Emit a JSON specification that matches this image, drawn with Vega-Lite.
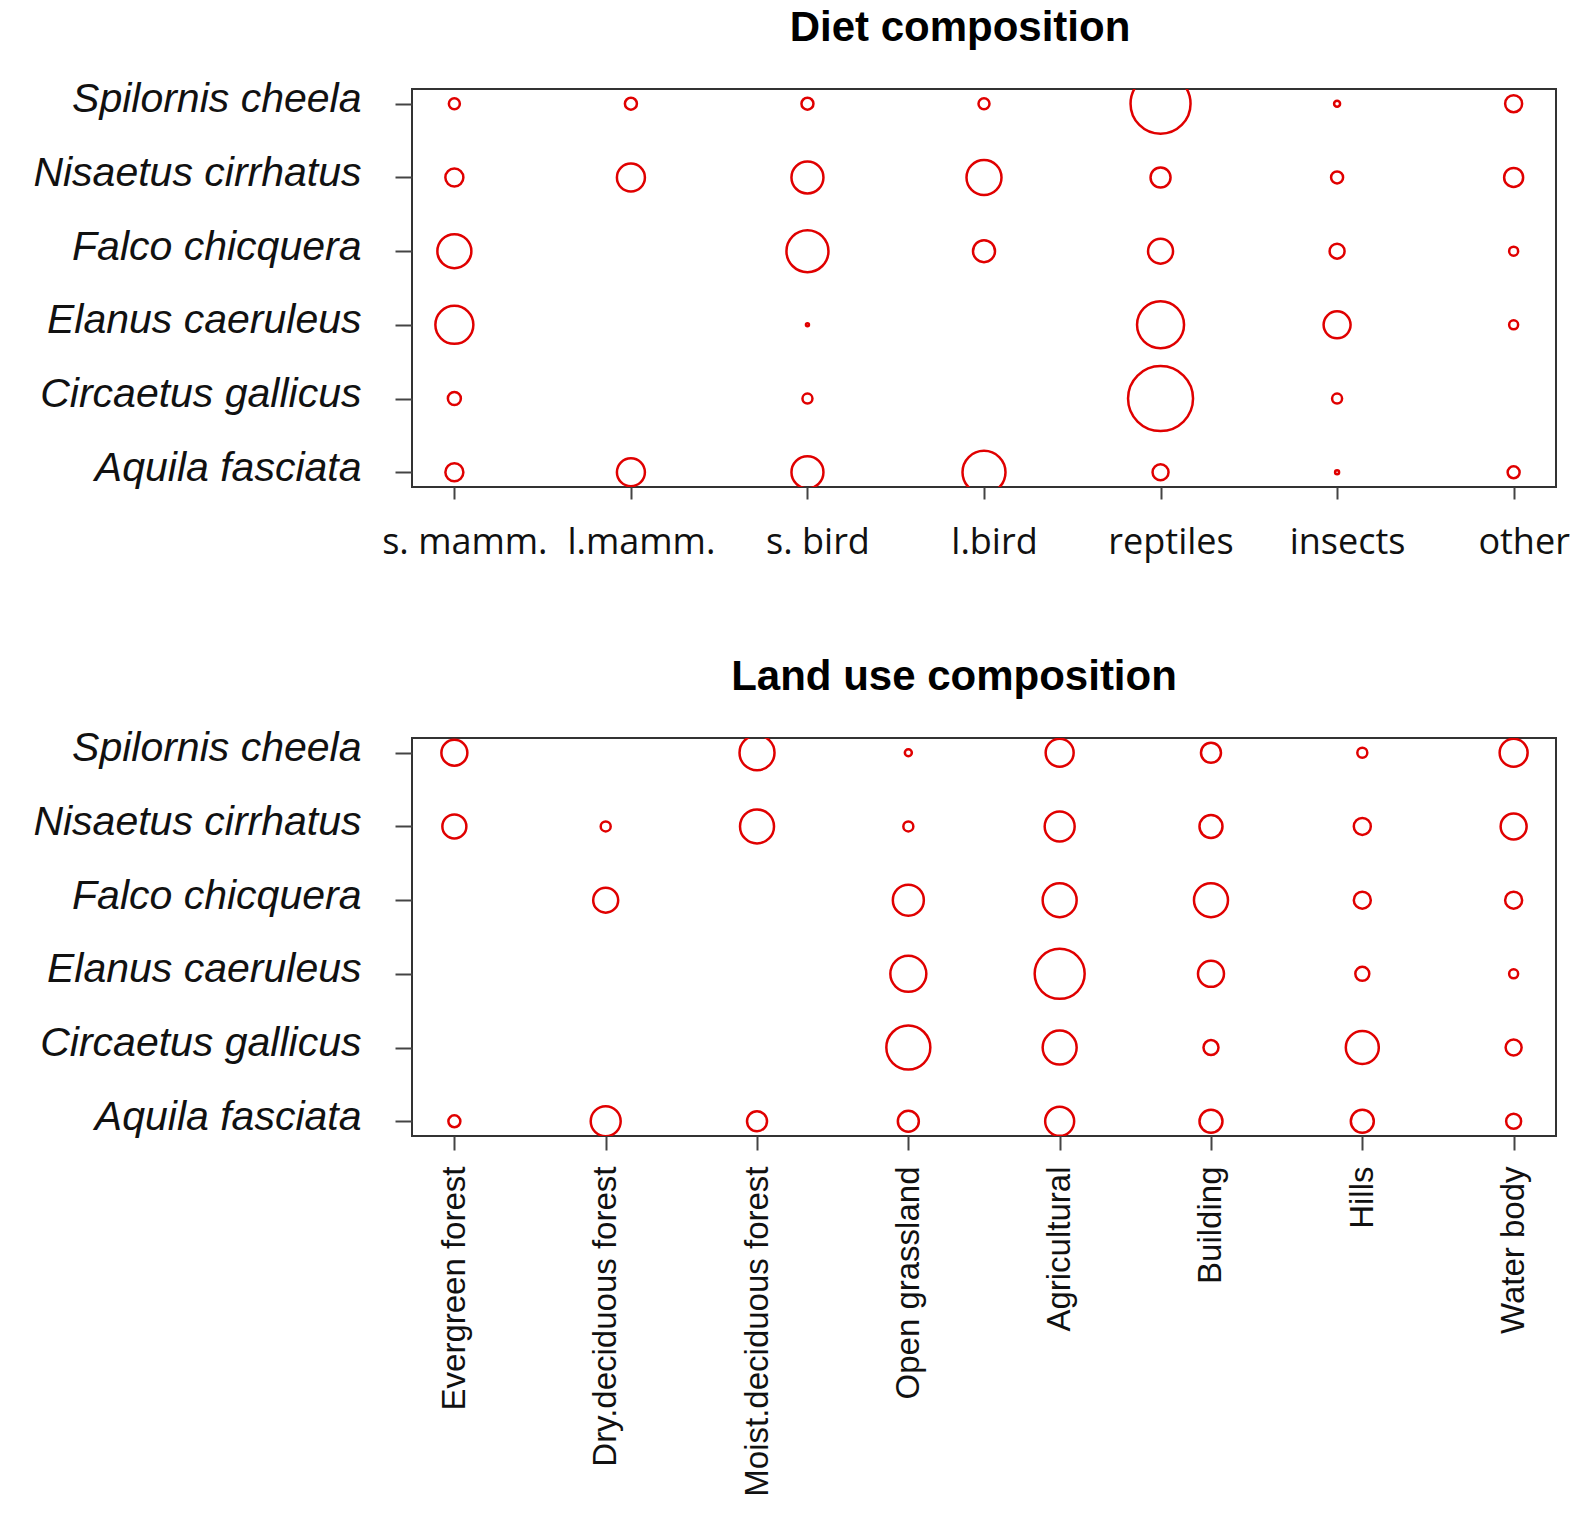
{
  "$schema": "https://vega.github.io/schema/vega-lite/v6.json",
  "background": "white",
  "padding": {"left": 31, "top": 5, "right": 5, "bottom": 5},
  "config": {
    "view": {"stroke": "#333333", "strokeWidth": 2},
    "axis": {"grid": false, "domain": false, "tickColor": "#444444", "tickWidth": 2, "labelColor": "#111111", "title": null}
  },
  "datasets": {
    "diet": [
      {"species": "Spilornis cheela", "category": "s. mamm.", "value": 11},
      {"species": "Spilornis cheela", "category": "l.mamm.", "value": 12},
      {"species": "Spilornis cheela", "category": "s. bird", "value": 12},
      {"species": "Spilornis cheela", "category": "l.bird", "value": 11},
      {"species": "Spilornis cheela", "category": "reptiles", "value": 60},
      {"species": "Spilornis cheela", "category": "insects", "value": 6},
      {"species": "Spilornis cheela", "category": "other", "value": 17},
      {"species": "Nisaetus cirrhatus", "category": "s. mamm.", "value": 18},
      {"species": "Nisaetus cirrhatus", "category": "l.mamm.", "value": 28},
      {"species": "Nisaetus cirrhatus", "category": "s. bird", "value": 32},
      {"species": "Nisaetus cirrhatus", "category": "l.bird", "value": 35},
      {"species": "Nisaetus cirrhatus", "category": "reptiles", "value": 20},
      {"species": "Nisaetus cirrhatus", "category": "insects", "value": 12},
      {"species": "Nisaetus cirrhatus", "category": "other", "value": 19},
      {"species": "Falco chicquera", "category": "s. mamm.", "value": 34},
      {"species": "Falco chicquera", "category": "s. bird", "value": 42},
      {"species": "Falco chicquera", "category": "l.bird", "value": 22},
      {"species": "Falco chicquera", "category": "reptiles", "value": 25},
      {"species": "Falco chicquera", "category": "insects", "value": 15},
      {"species": "Falco chicquera", "category": "other", "value": 9},
      {"species": "Elanus caeruleus", "category": "s. mamm.", "value": 38},
      {"species": "Elanus caeruleus", "category": "s. bird", "value": 3},
      {"species": "Elanus caeruleus", "category": "reptiles", "value": 47},
      {"species": "Elanus caeruleus", "category": "insects", "value": 27},
      {"species": "Elanus caeruleus", "category": "other", "value": 9},
      {"species": "Circaetus gallicus", "category": "s. mamm.", "value": 13},
      {"species": "Circaetus gallicus", "category": "s. bird", "value": 10},
      {"species": "Circaetus gallicus", "category": "reptiles", "value": 65},
      {"species": "Circaetus gallicus", "category": "insects", "value": 10},
      {"species": "Aquila fasciata", "category": "s. mamm.", "value": 18},
      {"species": "Aquila fasciata", "category": "l.mamm.", "value": 28},
      {"species": "Aquila fasciata", "category": "s. bird", "value": 32},
      {"species": "Aquila fasciata", "category": "l.bird", "value": 43},
      {"species": "Aquila fasciata", "category": "reptiles", "value": 16},
      {"species": "Aquila fasciata", "category": "insects", "value": 4},
      {"species": "Aquila fasciata", "category": "other", "value": 12}
    ],
    "land": [
      {"species": "Spilornis cheela", "category": "Evergreen forest", "value": 26},
      {"species": "Spilornis cheela", "category": "Moist.deciduous forest", "value": 35},
      {"species": "Spilornis cheela", "category": "Open grassland", "value": 7},
      {"species": "Spilornis cheela", "category": "Agricultural", "value": 28},
      {"species": "Spilornis cheela", "category": "Building", "value": 20},
      {"species": "Spilornis cheela", "category": "Hills", "value": 10},
      {"species": "Spilornis cheela", "category": "Water body", "value": 28},
      {"species": "Nisaetus cirrhatus", "category": "Evergreen forest", "value": 24},
      {"species": "Nisaetus cirrhatus", "category": "Dry.deciduous forest", "value": 10},
      {"species": "Nisaetus cirrhatus", "category": "Moist.deciduous forest", "value": 34},
      {"species": "Nisaetus cirrhatus", "category": "Open grassland", "value": 10},
      {"species": "Nisaetus cirrhatus", "category": "Agricultural", "value": 30},
      {"species": "Nisaetus cirrhatus", "category": "Building", "value": 23},
      {"species": "Nisaetus cirrhatus", "category": "Hills", "value": 17},
      {"species": "Nisaetus cirrhatus", "category": "Water body", "value": 26},
      {"species": "Falco chicquera", "category": "Dry.deciduous forest", "value": 25},
      {"species": "Falco chicquera", "category": "Open grassland", "value": 31},
      {"species": "Falco chicquera", "category": "Agricultural", "value": 34},
      {"species": "Falco chicquera", "category": "Building", "value": 34},
      {"species": "Falco chicquera", "category": "Hills", "value": 17},
      {"species": "Falco chicquera", "category": "Water body", "value": 17},
      {"species": "Elanus caeruleus", "category": "Open grassland", "value": 36},
      {"species": "Elanus caeruleus", "category": "Agricultural", "value": 50},
      {"species": "Elanus caeruleus", "category": "Building", "value": 26},
      {"species": "Elanus caeruleus", "category": "Hills", "value": 14},
      {"species": "Elanus caeruleus", "category": "Water body", "value": 9},
      {"species": "Circaetus gallicus", "category": "Open grassland", "value": 44},
      {"species": "Circaetus gallicus", "category": "Agricultural", "value": 34},
      {"species": "Circaetus gallicus", "category": "Building", "value": 15},
      {"species": "Circaetus gallicus", "category": "Hills", "value": 33},
      {"species": "Circaetus gallicus", "category": "Water body", "value": 16},
      {"species": "Aquila fasciata", "category": "Evergreen forest", "value": 12},
      {"species": "Aquila fasciata", "category": "Dry.deciduous forest", "value": 30},
      {"species": "Aquila fasciata", "category": "Moist.deciduous forest", "value": 20},
      {"species": "Aquila fasciata", "category": "Open grassland", "value": 21},
      {"species": "Aquila fasciata", "category": "Agricultural", "value": 29},
      {"species": "Aquila fasciata", "category": "Building", "value": 23},
      {"species": "Aquila fasciata", "category": "Hills", "value": 23},
      {"species": "Aquila fasciata", "category": "Water body", "value": 15}
    ]
  },
  "spacing": 93,
  "vconcat": [
    {
      "width": 1144,
      "height": 398,
      "title": {"text": "Diet composition", "font": "Liberation Sans", "fontSize": 42, "fontWeight": "bold", "color": "#000000", "anchor": "middle", "frame": "group", "offset": -4, "baseline": "alphabetic", "dx": -24},
      "data": {"name": "diet"},
      "mark": {"type": "point", "shape": "circle", "filled": false, "stroke": "#e00000", "strokeWidth": 2.5, "opacity": 1, "clip": true},
      "encoding": {
        "x": {"field": "category", "type": "nominal",
              "sort": ["s. mamm.", "l.mamm.", "s. bird", "l.bird", "reptiles", "insects", "other"],
              "scale": {"type": "point", "padding": 0.24},
              "axis": {"labelAngle": 0, "labelFont": "Open Sans", "labelFontSize": 36, "tickSize": 12, "labelPadding": 54, "labelBaseline": "alphabetic", "labelAlign": "center", "labelOffset": 10, "labelLimit": 600}},
        "y": {"field": "species", "type": "nominal",
              "sort": ["Spilornis cheela", "Nisaetus cirrhatus", "Falco chicquera", "Elanus caeruleus", "Circaetus gallicus", "Aquila fasciata"],
              "scale": {"type": "point", "padding": 0.2},
              "axis": {"labelFont": "Liberation Sans", "labelFontStyle": "italic", "labelFontSize": 41, "tickSize": 17, "labelPadding": 34, "labelBaseline": "alphabetic", "labelOffset": 8, "labelLimit": 600}},
        "size": {"field": "value", "type": "quantitative", "scale": {"type": "pow", "exponent": 2, "domain": [0, 100], "range": [0, 10000]}, "legend": null}
      }
    },
    {
      "width": 1144,
      "height": 398,
      "title": {"text": "Land use composition", "font": "Liberation Sans", "fontSize": 42, "fontWeight": "bold", "color": "#000000", "anchor": "middle", "frame": "group", "offset": -4, "baseline": "alphabetic", "dx": -30},
      "data": {"name": "land"},
      "mark": {"type": "point", "shape": "circle", "filled": false, "stroke": "#e00000", "strokeWidth": 2.5, "opacity": 1, "clip": true},
      "encoding": {
        "x": {"field": "category", "type": "nominal",
              "sort": ["Evergreen forest", "Dry.deciduous forest", "Moist.deciduous forest", "Open grassland", "Agricultural", "Building", "Hills", "Water body"],
              "scale": {"type": "point", "padding": 0.28},
              "axis": {"labelAngle": 270, "labelFont": "Liberation Sans", "labelFontSize": 33, "tickSize": 14, "labelPadding": 16, "labelAlign": "right", "labelBaseline": "middle", "labelLimit": 600}},
        "y": {"field": "species", "type": "nominal",
              "sort": ["Spilornis cheela", "Nisaetus cirrhatus", "Falco chicquera", "Elanus caeruleus", "Circaetus gallicus", "Aquila fasciata"],
              "scale": {"type": "point", "padding": 0.2},
              "axis": {"labelFont": "Liberation Sans", "labelFontStyle": "italic", "labelFontSize": 41, "tickSize": 17, "labelPadding": 34, "labelBaseline": "alphabetic", "labelOffset": 8, "labelLimit": 600}},
        "size": {"field": "value", "type": "quantitative", "scale": {"type": "pow", "exponent": 2, "domain": [0, 100], "range": [0, 10000]}, "legend": null}
      }
    }
  ]
}
